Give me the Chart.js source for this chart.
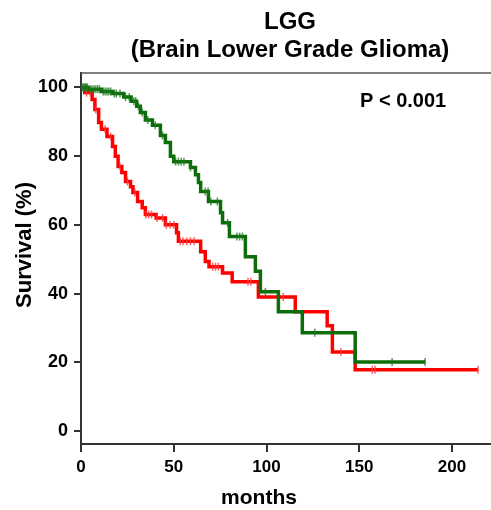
<!DOCTYPE html>
<html><head><meta charset="utf-8">
<script src="https://cdn.jsdelivr.net/npm/chart.js@4/dist/chart.umd.min.js"></script>
<style>html,body{margin:0;padding:0;background:#fff;} #wrap{width:491px;height:510px;position:relative;}</style>
</head><body><div id="wrap"><canvas id="c" width="491" height="510"></canvas></div>
<script>
// ---- data ----
const titleLines = ['LGG', '(Brain Lower Grade Glioma)'];
const xTickValues = [0, 50, 100, 150, 200];
const yTickValues = [0, 20, 40, 60, 80, 100];
const pValueText = 'P < 0.001';
const xTitle = 'months';
const yTitle = 'Survival (%)';

// green group: event times (months) and survival (%) after each event
const greenTimes = [0, 4, 11, 17, 23, 27, 30, 32, 34.7, 38.5, 42.8, 45.5, 48.2, 50, 59, 61.7, 63.3, 64.5, 68.7, 75.2, 76.3, 80, 88.6, 94, 96.7, 106.4, 119.3, 147.8, 185.5];
const greenSurv  = [100, 99.5, 98.8, 98.2, 97.2, 96, 94.5, 92.7, 90.5, 89, 86, 84, 80, 78.4, 76.7, 74.6, 72.3, 69.7, 66.8, 63.5, 60.6, 56.6, 50.7, 46.5, 40.5, 34.7, 28.6, 20.1, 20.1];
const greenCensor = [0.5, 1, 1.5, 2, 2.5, 3, 3.5, 5, 6, 7, 8, 9, 10, 12, 13, 14, 15, 16, 18, 19, 21, 24, 26, 28.5, 29.5, 31, 33, 36, 40, 44, 51, 52.5, 54, 55.5, 59, 67, 68.5, 70, 73.5, 79, 84, 85.5, 87, 99.4, 126, 167.7, 185.5];

// red group
const redTimes = [0, 2, 6, 7.5, 9.5, 11, 14, 17, 18.5, 20, 22, 24, 26.7, 28, 30.5, 33, 34.7, 40.5, 45.5, 51.5, 52.5, 64.5, 67, 69, 76.3, 81.5, 95.6, 115.5, 132.7, 135.5, 147.8, 214];
const redSurv  = [100, 98.5, 96.5, 93.6, 89.8, 87.8, 85.7, 82.8, 80, 77, 75.2, 72.6, 71.1, 69.4, 66.8, 65, 63, 62, 60, 57.7, 55.2, 52.2, 49.3, 47.8, 46, 43.4, 39, 34.7, 30.6, 23, 17.8, 17.8];
const redCensor = [3, 5, 8, 13, 16, 21, 25, 29, 35, 36.5, 38, 41, 44, 46, 48, 50, 53.5, 55, 57, 59, 61, 71, 72.5, 74, 90, 91.5, 109, 140, 157, 158.5, 214];

// ---- build ----
const FONT = "'Liberation Sans', Arial, Helvetica, sans-serif";
function stepPoints(times, surv) { return times.map((t, i) => ({x: t, y: surv[i]})); }
function survAt(times, surv, t) { let v = surv[0]; for (let i = 0; i < times.length; i++) { if (times[i] <= t) v = surv[i]; } return v; }
function censorPoints(c, times, surv) { return c.map(t => ({x: t, y: survAt(times, surv, t)})); }

const GREEN = '#0b6e0b', RED = '#ff0000';

const textPlugin = {
  id: 'texts',
  afterDraw(chart) {
    const ctx = chart.ctx, a = chart.chartArea;
    ctx.save();
    // top frame line
    ctx.strokeStyle = '#555'; ctx.lineWidth = 1.5;
    ctx.beginPath(); ctx.moveTo(a.left, a.top); ctx.lineTo(a.right, a.top); ctx.stroke();
    ctx.fillStyle = '#000';
    ctx.textAlign = 'center'; ctx.textBaseline = 'alphabetic';
    ctx.font = "bold 24px " + FONT;
    ctx.fillText(titleLines[0], 290, 29);
    ctx.fillText(titleLines[1], 290, 57);
    ctx.font = "bold 21px " + FONT;
    ctx.fillText(xTitle, 259, 504);
    ctx.save();
    ctx.translate(31, 245); ctx.rotate(-Math.PI / 2);
    ctx.font = "bold 22px " + FONT;
    ctx.fillText(yTitle, 0, 0);
    ctx.restore();
    ctx.textAlign = 'left';
    ctx.font = "bold 20px " + FONT;
    ctx.fillText(pValueText, 360, 107);
    ctx.restore();
  }
};

new Chart(document.getElementById('c'), {
  type: 'line',
  data: {
    datasets: [
      { label: 'red', data: stepPoints(redTimes, redSurv), borderColor: RED, borderWidth: 3.5, stepped: 'before', pointRadius: 0, fill: false, order: 4 },
      { label: 'red censored', data: censorPoints(redCensor, redTimes, redSurv), showLine: false, pointStyle: 'line', rotation: 90, pointRadius: 4, pointBorderWidth: 1.5, pointBorderColor: 'rgba(255,60,60,0.8)', borderColor: 'rgba(255,60,60,0.8)', order: 3 },
      { label: 'green', data: stepPoints(greenTimes, greenSurv), borderColor: GREEN, borderWidth: 3.5, stepped: 'before', pointRadius: 0, fill: false, order: 2 },
      { label: 'green censored', data: censorPoints(greenCensor, greenTimes, greenSurv), showLine: false, pointStyle: 'line', rotation: 90, pointRadius: 4, pointBorderWidth: 1.5, pointBorderColor: 'rgba(30,120,30,0.75)', borderColor: 'rgba(30,120,30,0.75)', order: 1 }
    ]
  },
  options: {
    responsive: false, animation: false, devicePixelRatio: 1,
    layout: { autoPadding: false, padding: { top: 73, left: 0, right: 0, bottom: 0 } },
    plugins: { legend: { display: false }, tooltip: { enabled: false }, title: { display: false } },
    scales: {
      x: {
        type: 'linear', min: 0, max: 221,
        afterBuildTicks: s => { s.ticks = xTickValues.map(v => ({value: v})); },
        afterFit: s => { s.height = 66; s.paddingRight = 0; s.paddingLeft = 0; },
        grid: { display: true, drawOnChartArea: false, drawTicks: true, tickLength: 8, color: '#333', lineWidth: 2 },
        border: { display: true, color: '#333', width: 2 },
        ticks: { color: '#000', font: { family: FONT, size: 17, weight: 'bold' }, padding: 5, maxRotation: 0 }
      },
      y: {
        type: 'linear', min: -3.8, max: 104.2,
        afterBuildTicks: s => { s.ticks = yTickValues.map(v => ({value: v})); },
        afterFit: s => { s.width = 81; },
        grid: { display: true, drawOnChartArea: false, drawTicks: true, tickLength: 7, color: '#333', lineWidth: 2 },
        border: { display: true, color: '#333', width: 2 },
        ticks: { color: '#000', font: { family: FONT, size: 18, weight: 'bold' }, padding: 6 }
      }
    }
  },
  plugins: [textPlugin]
});
</script>
</body></html>
